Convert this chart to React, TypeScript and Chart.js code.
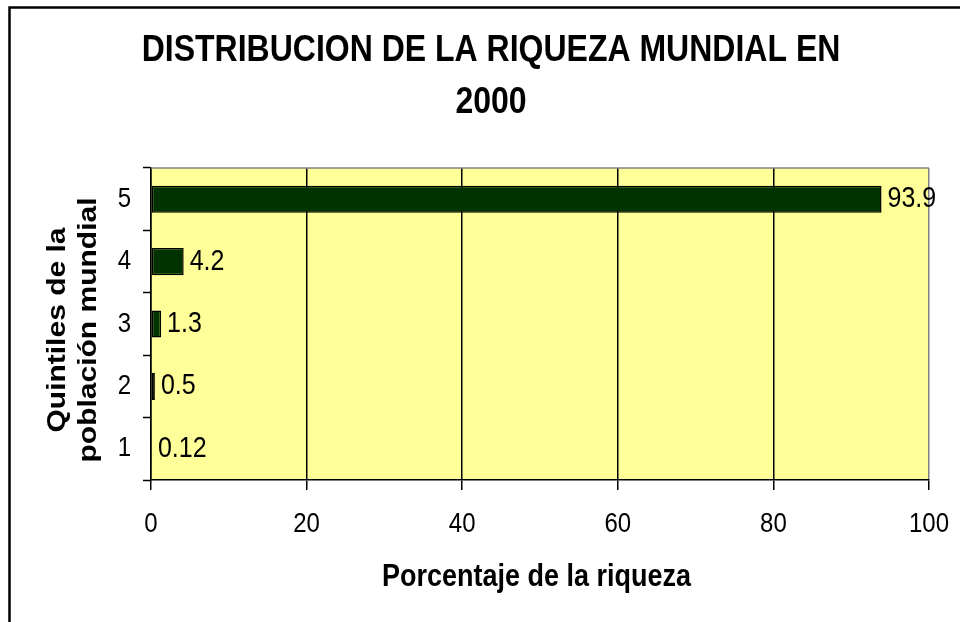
import React, { useEffect, useRef } from 'react';
import { Chart, registerables } from 'chart.js';

Chart.register(...registerables);

// ---- data ----
const TITLE_LINES = ['DISTRIBUCION DE LA RIQUEZA MUNDIAL EN', '2000'];
const QUINTILES = ['5', '4', '3', '2', '1'];
const WEALTH_SHARE = [93.9, 4.2, 1.3, 0.5, 0.12];
const X_AXIS_TITLE = 'Porcentaje de la riqueza';
const Y_AXIS_TITLE = ['Quintiles de la', 'población mundial'];
const X_MIN = 0;
const X_MAX = 100;
const X_STEP = 20;

const FONT = '"Liberation Sans", Arial, Helvetica, sans-serif';
const PLOT_BG = '#FFFF99';
const BAR_FILL = '#003300';

function drawText(
  ctx: CanvasRenderingContext2D,
  text: string,
  x: number,
  y: number,
  size: number,
  bold: boolean,
  sx: number,
  sy: number,
  align: CanvasTextAlign,
  rot = 0
) {
  ctx.save();
  ctx.translate(x, y);
  if (rot) ctx.rotate(rot);
  ctx.scale(sx, sy);
  ctx.font = `${bold ? 'bold ' : ''}${size}px ${FONT}`;
  ctx.fillStyle = '#000000';
  ctx.textAlign = align;
  ctx.textBaseline = 'middle';
  ctx.fillText(text, 0, 0);
  ctx.restore();
}

const decorPlugin = {
  id: 'excelDecor',
  beforeDraw(chart: any) {
    const { ctx, chartArea } = chart;
    ctx.save();
    ctx.fillStyle = '#FFFFFF';
    ctx.fillRect(0, 0, chart.width, chart.height);
    ctx.fillStyle = PLOT_BG;
    ctx.fillRect(chartArea.left, chartArea.top, chartArea.right - chartArea.left, chartArea.bottom - chartArea.top);
    ctx.restore();
  },
  afterDatasetsDraw(chart: any) {
    const { ctx, chartArea } = chart;
    ctx.save();
    ctx.strokeStyle = '#808080';
    ctx.lineWidth = 1.5;
    ctx.beginPath();
    ctx.moveTo(chartArea.left, chartArea.top);
    ctx.lineTo(chartArea.right, chartArea.top);
    ctx.stroke();
    ctx.restore();
  },
  afterDraw(chart: any) {
    const { ctx, chartArea } = chart;
    // outer chart frame
    ctx.save();
    ctx.strokeStyle = '#000000';
    ctx.lineWidth = 2.5;
    ctx.strokeRect(9.5, 7.5, chart.width + 20, chart.height + 20);
    ctx.restore();

    // title
    drawText(ctx, TITLE_LINES[0], 491, 51, 32, true, 1, 1.18, 'center');
    drawText(ctx, TITLE_LINES[1], 491, 103, 32, true, 1, 1.18, 'center');

    // x tick labels
    const xs = chart.scales.x;
    xs.ticks.forEach((t: any, i: number) => {
      drawText(ctx, String(t.value), xs.getPixelForTick(i), chartArea.bottom + 44, 24, false, 1, 1.18, 'center');
    });

    // y category labels
    const ys = chart.scales.y;
    ys.ticks.forEach((t: any, i: number) => {
      drawText(ctx, ys.getLabelForValue(t.value), chartArea.left - 20, ys.getPixelForTick(i), 24, false, 1, 1.15, 'right');
    });

    // data labels
    const meta = chart.getDatasetMeta(0);
    meta.data.forEach((bar: any, i: number) => {
      drawText(ctx, String(WEALTH_SHARE[i]), bar.x + 6, bar.y, 25, false, 1, 1.15, 'left');
    });

    // axis titles
    drawText(ctx, X_AXIS_TITLE, 536.5, 577, 27, true, 1, 1.15, 'center');
    const cy = (chartArea.top + chartArea.bottom) / 2 + 6;
    drawText(ctx, Y_AXIS_TITLE[0], 58, cy, 25, true, 1.2, 1.05, 'center', -Math.PI / 2);
    drawText(ctx, Y_AXIS_TITLE[1], 89, cy, 25, true, 1.2, 1.05, 'center', -Math.PI / 2);
  },
};

export default function App() {
  const canvasRef = useRef<HTMLCanvasElement | null>(null);

  useEffect(() => {
    const canvas = canvasRef.current;
    if (!canvas) return;
    const chart = new Chart(canvas, {
      type: 'bar',
      data: {
        labels: QUINTILES,
        datasets: [
          {
            data: WEALTH_SHARE,
            backgroundColor: BAR_FILL,
            borderColor: '#000000',
            borderWidth: 1.5,
            borderSkipped: false,
            barPercentage: 1 / 2.3,
            categoryPercentage: 1,
          },
        ],
      },
      options: {
        indexAxis: 'y',
        responsive: false,
        animation: false,
        devicePixelRatio: 1,
        layout: { padding: { left: 0, top: 168, right: 31, bottom: 0 } },
        plugins: {
          legend: { display: false },
          title: { display: false },
          tooltip: { enabled: false },
        },
        scales: {
          x: {
            type: 'linear',
            min: X_MIN,
            max: X_MAX,
            ticks: { stepSize: X_STEP, color: 'rgba(0,0,0,0)', font: { size: 8 } },
            grid: {
              display: true,
              drawOnChartArea: true,
              drawTicks: true,
              tickLength: 10,
              lineWidth: 1.5,
              tickWidth: 1.5,
              tickColor: '#000000',
              color: (c: any) => (c.tick && c.tick.value === X_MAX ? '#808080' : '#000000'),
            },
            border: { display: true, color: '#000000', width: 1.5 },
            afterFit: (scale: any) => {
              scale.height = 142;
            },
          },
          y: {
            type: 'category',
            offset: true,
            ticks: { color: 'rgba(0,0,0,0)', font: { size: 8 } },
            grid: {
              display: true,
              offset: true,
              drawOnChartArea: false,
              drawTicks: true,
              tickLength: 8,
              tickWidth: 1.5,
              tickColor: '#000000',
              color: '#000000',
            },
            border: { display: true, color: '#000000', width: 1.5 },
            afterFit: (scale: any) => {
              scale.width = 151;
            },
          },
        },
      },
      plugins: [decorPlugin],
    });
    return () => chart.destroy();
  }, []);

  return (
    <div style={{ position: 'absolute', left: 0, top: 0, width: 960, height: 622, background: '#fff' }}>
      <canvas ref={canvasRef} width={960} height={622} style={{ display: 'block', width: 960, height: 622 }} />
    </div>
  );
}
